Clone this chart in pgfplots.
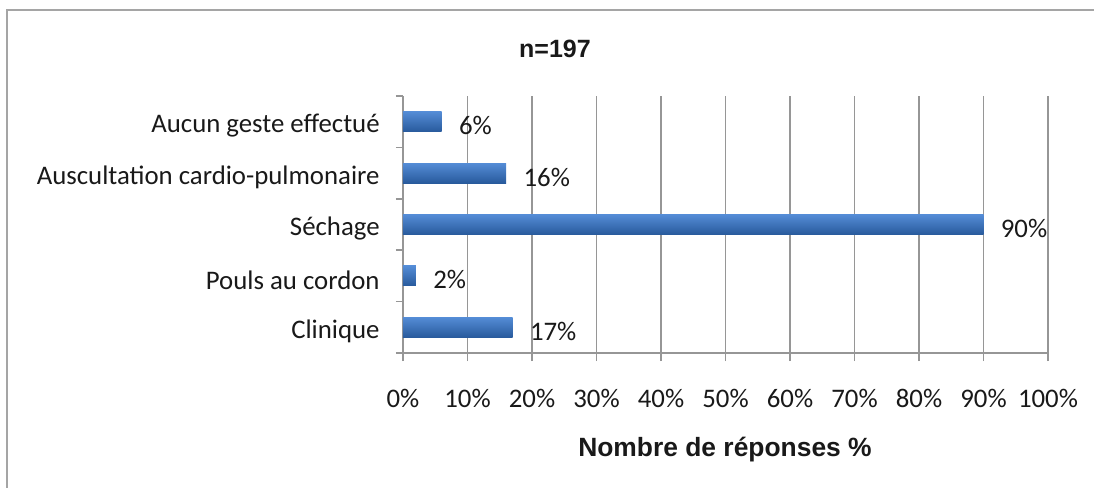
\documentclass[border=0pt]{standalone}
\usepackage{pgfplots}
\pgfplotsset{compat=1.18}
\usepackage{fontspec}
\setmainfont{Carlito}
\newfontfamily\arialb{Liberation Sans}
\definecolor{gridgray}{RGB}{150,150,150}
\definecolor{framegray}{RGB}{165,165,165}
\definecolor{bartop}{RGB}{84,140,214}
\definecolor{barbot}{RGB}{40,90,156}
\definecolor{txt}{RGB}{25,25,25}
\pgfplotsset{onebar/.style={draw=none, top color=bartop, bottom color=barbot}}

\begin{document}
\begin{tikzpicture}
% picture is 1094x488 px at 0.5pt per px
\useasboundingbox (0,0) rectangle (547pt,244pt);
\draw[framegray, line width=1.3pt] (3.5pt,0) -- (3.5pt,239pt) -- (547pt,239pt);

\begin{axis}[
  at={(201.5pt,67.5pt)}, anchor=south west,
  scale only axis,
  width=322.5pt, height=128.5pt,
  xbar, bar width=10pt, bar shift=0pt,
  xmin=0, xmax=100,
  ymin=-0.5, ymax=4.5,
  axis lines*=left,
  axis line style={gridgray, line width=0.8pt},
  xtick={0,10,...,100},
  xticklabels={0\%,10\%,20\%,30\%,40\%,50\%,60\%,70\%,80\%,90\%,100\%},
  xmajorgrids, grid style={gridgray, line width=0.8pt},
  x tick style={gridgray, line width=0.8pt},
  tick align=outside, major tick length=4pt,
  xticklabel style={anchor=center, inner sep=0pt, yshift=-18.5pt, font=\fontsize{13.4}{15}\selectfont, text=txt},
  ytick={0,1,2,3,4},
  yticklabels={Clinique, Pouls au cordon, Séchage, Auscultation cardio-pulmonaire, Aucun geste effectué},
  y tick style={draw=none},
  yticklabel style={anchor=east, inner sep=0pt, xshift=-7.5pt, yshift=-2pt, font=\fontsize{13.4}{15}\selectfont, text=txt},
  extra y ticks={-0.5,0.5,1.5,2.5,3.5,4.5},
  extra y tick labels={},
  extra y tick style={y tick style={draw=gridgray, line width=0.8pt}, major tick length=3.5pt, tick align=outside},
  /pgf/number format/assume math mode=true,
  nodes near coords={\pgfmathprintnumber{\pgfplotspointmeta}\%},
  nodes near coords align={horizontal},
  every node near coord/.append style={anchor=west, inner sep=0pt, xshift=8.5pt, yshift=-2pt, font=\fontsize{13.4}{15}\selectfont, text=txt},
  clip=false,
]
\addplot[onebar] coordinates {(17,0)};
\addplot[onebar] coordinates {(2,1)};
\addplot[onebar] coordinates {(90,2)};
\addplot[onebar] coordinates {(16,3)};
\addplot[onebar] coordinates {(6,4)};
\end{axis}

\node[font=\arialb\bfseries\fontsize{12.5}{14}\selectfont, text=txt] at (277.5pt,219.5pt) {n=197};
\node[font=\arialb\bfseries\fontsize{13.2}{15}\selectfont, text=txt] at (362.5pt,19pt) {Nombre de réponses \%};
\end{tikzpicture}
\end{document}
